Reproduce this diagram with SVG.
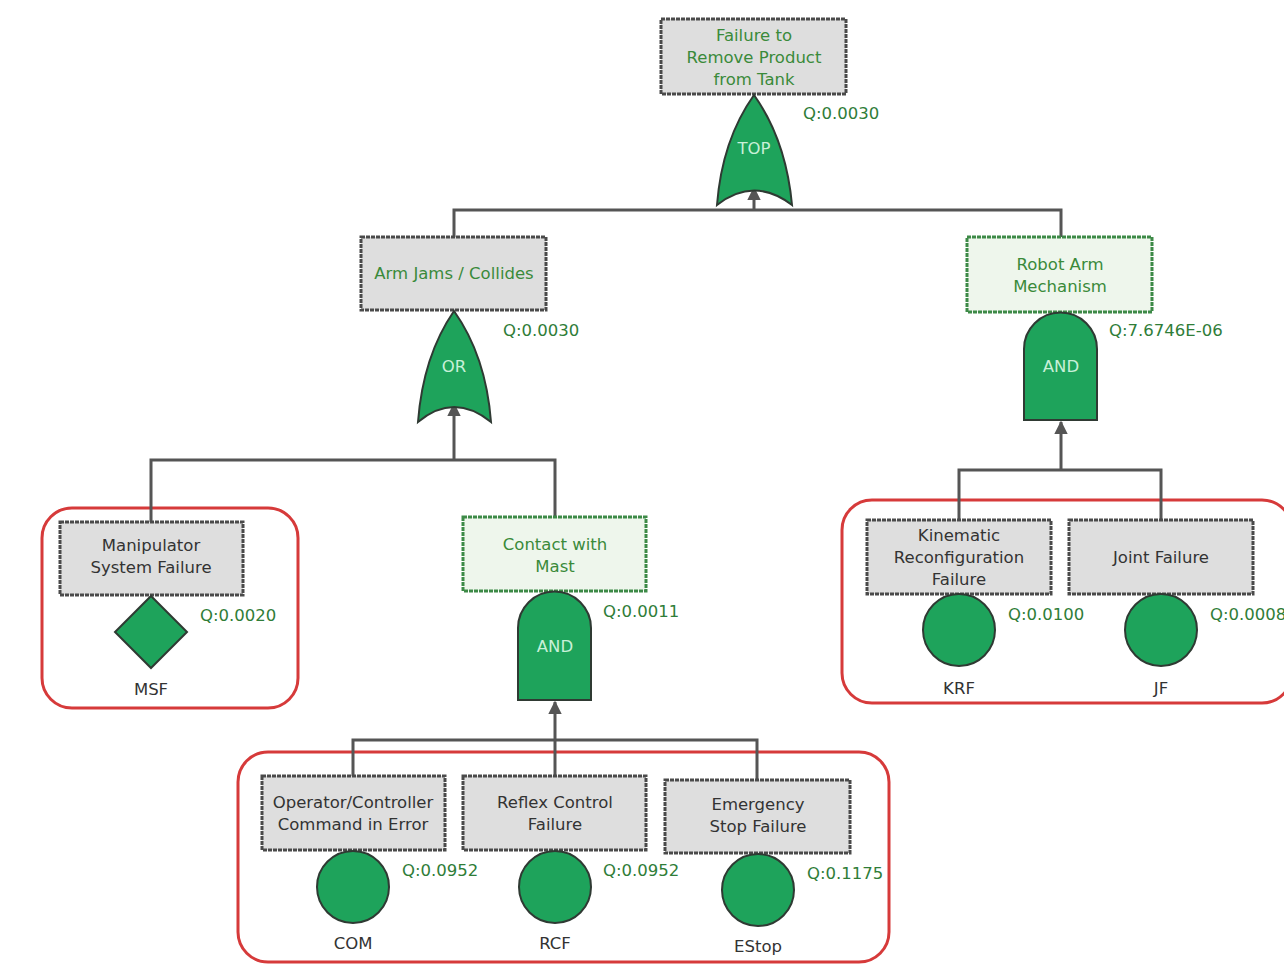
<svg xmlns="http://www.w3.org/2000/svg" width="1284" height="975" viewBox="0 0 1284 975">
<defs>
<marker id="arr" viewBox="0 0 10 10" refX="9" refY="5" markerWidth="4.5" markerHeight="4.5" orient="auto" markerUnits="strokeWidth">
<path d="M0,0 L10,5 L0,10 Z" fill="#555"/>
</marker>
<style>
.ev{fill:#dedede;stroke:#4a4a4a;stroke-width:3;stroke-dasharray:4 1}
.evg{fill:#eef6ec;stroke:#3d8a47;stroke-width:3;stroke-dasharray:4 1}
.gate{fill:#1ea35b;stroke:#2f3a33;stroke-width:2}
.grp{fill:none;stroke:#d63a3a;stroke-width:3}
.con{fill:none;stroke:#555;stroke-width:3}
text{font-family:"DejaVu Sans","Liberation Sans",sans-serif;font-size:16.5px;text-anchor:middle}
.tg{fill:#3a8a3a}
.tk{fill:#333}
.tq{fill:#2f7d38;text-anchor:start}
.tw{fill:#c8f0d8}
</style>
</defs>
<rect width="1284" height="975" fill="#ffffff"/>

<g id="groups">
<rect class="grp" x="42" y="508" width="256" height="200" rx="30"/>
<rect class="grp" x="842" y="500" width="450" height="203" rx="30"/>
<rect class="grp" x="238" y="752" width="651" height="210" rx="30"/>
</g>

<g id="connectors">
<path class="con" d="M454,237 V210 H1061 V237"/>
<path class="con" d="M754,210 V188" marker-end="url(#arr)"/>
<path class="con" d="M151,522 V460 H555 V517"/>
<path class="con" d="M454,460 V404" marker-end="url(#arr)"/>
<path class="con" d="M959,520 V470 H1161 V520"/>
<path class="con" d="M1061,470 V422" marker-end="url(#arr)"/>
<path class="con" d="M353,776 V740 H757 V780"/>
<path class="con" d="M555,776 V740"/>
<path class="con" d="M555,740 V702" marker-end="url(#arr)"/>
</g>

<g id="top">
<rect class="ev" x="661" y="19" width="185" height="75"/>
<text class="tg" x="754" y="41">Failure to</text>
<text class="tg" x="754" y="63">Remove Product</text>
<text class="tg" x="754" y="85">from Tank</text>
<path class="gate" d="M754,95 Q722,140 717,205 Q754,176 792,205 Q786,140 754,95 Z"/>
<text class="tw" x="754" y="154">TOP</text>
<text class="tq" x="803" y="119">Q:0.0030</text>
</g>

<g id="armjams">
<rect class="ev" x="361" y="237" width="185" height="73"/>
<text class="tg" x="454" y="279">Arm Jams / Collides</text>
<path class="gate" d="M454,311 Q423,356 418,422 Q454,392 491,422 Q486,356 454,311 Z"/>
<text class="tw" x="454" y="372">OR</text>
<text class="tq" x="503" y="336">Q:0.0030</text>
</g>

<g id="robotarm">
<rect class="evg" x="967" y="237" width="185" height="75"/>
<text class="tg" x="1060" y="270">Robot Arm</text>
<text class="tg" x="1060" y="292">Mechanism</text>
<path class="gate" d="M1024,420 V349 A36.5,36.5 0 0 1 1097,349 V420 Z"/>
<text class="tw" x="1061" y="372">AND</text>
<text class="tq" x="1109" y="336">Q:7.6746E-06</text>
</g>

<g id="msf">
<rect class="ev" x="60" y="522" width="183" height="73"/>
<text class="tk" x="151" y="551">Manipulator</text>
<text class="tk" x="151" y="573">System Failure</text>
<path class="gate" d="M151,596 L187,632 L151,668 L115,632 Z"/>
<text class="tk" x="151" y="695">MSF</text>
<text class="tq" x="200" y="621">Q:0.0020</text>
</g>

<g id="contact">
<rect class="evg" x="463" y="517" width="183" height="74"/>
<text class="tg" x="555" y="550">Contact with</text>
<text class="tg" x="555" y="572">Mast</text>
<path class="gate" d="M518,700 V628 A36.5,36.5 0 0 1 591,628 V700 Z"/>
<text class="tw" x="555" y="652">AND</text>
<text class="tq" x="603" y="617">Q:0.0011</text>
</g>

<g id="krf">
<rect class="ev" x="867" y="520" width="184" height="74"/>
<text class="tk" x="959" y="541">Kinematic</text>
<text class="tk" x="959" y="563">Reconfiguration</text>
<text class="tk" x="959" y="585">Failure</text>
<circle class="gate" cx="959" cy="630" r="36"/>
<text class="tk" x="959" y="694">KRF</text>
<text class="tq" x="1008" y="620">Q:0.0100</text>
</g>

<g id="jf">
<rect class="ev" x="1069" y="520" width="184" height="74"/>
<text class="tk" x="1161" y="563">Joint Failure</text>
<circle class="gate" cx="1161" cy="630" r="36"/>
<text class="tk" x="1161" y="694">JF</text>
<text class="tq" x="1210" y="620">Q:0.0008</text>
</g>

<g id="com">
<rect class="ev" x="262" y="776" width="183" height="74"/>
<text class="tk" x="353" y="808">Operator/Controller</text>
<text class="tk" x="353" y="830">Command in Error</text>
<circle class="gate" cx="353" cy="887" r="36"/>
<text class="tk" x="353" y="949">COM</text>
<text class="tq" x="402" y="876">Q:0.0952</text>
</g>

<g id="rcf">
<rect class="ev" x="463" y="776" width="183" height="74"/>
<text class="tk" x="555" y="808">Reflex Control</text>
<text class="tk" x="555" y="830">Failure</text>
<circle class="gate" cx="555" cy="887" r="36"/>
<text class="tk" x="555" y="949">RCF</text>
<text class="tq" x="603" y="876">Q:0.0952</text>
</g>

<g id="estop">
<rect class="ev" x="665" y="780" width="185" height="73"/>
<text class="tk" x="758" y="810">Emergency</text>
<text class="tk" x="758" y="832">Stop Failure</text>
<circle class="gate" cx="758" cy="890" r="36"/>
<text class="tk" x="758" y="952">EStop</text>
<text class="tq" x="807" y="879">Q:0.1175</text>
</g>
</svg>
